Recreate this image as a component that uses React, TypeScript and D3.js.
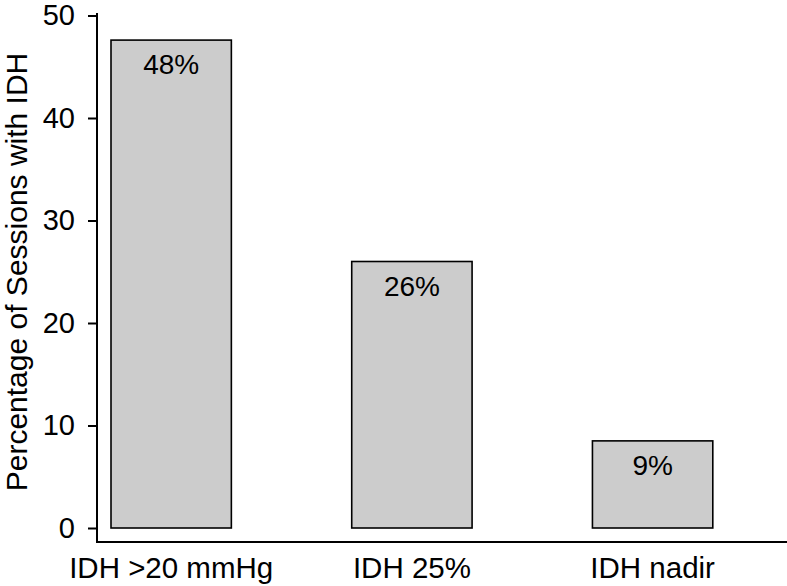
import { useEffect, useRef } from 'react'
import * as d3 from 'd3'

const categories = ['IDH >20 mmHg', 'IDH 25%', 'IDH nadir']
const values = [47.6, 26.0, 8.5]
const valueLabels = ['48%', '26%', '9%']
const yTicks = [0, 10, 20, 30, 40, 50]

export default function App() {
  const ref = useRef<SVGSVGElement>(null)
  useEffect(() => {
    const width = 787, height = 586
    const svg = d3.select(ref.current).attr('viewBox', `0 0 ${width} ${height}`)
    svg.selectAll('*').remove()
    const font = 'Liberation Sans, Arial, Helvetica, sans-serif'

    const axisX = 97, axisBottom = 542
    const x = d3.scaleBand().domain(categories).range([111, 712.8]).paddingInner(0.5).paddingOuter(0)
    const y = d3.scaleLinear().domain([0, 50]).range([528, 15.5])

    // bars
    svg.append('g').selectAll('rect').data(values).join('rect')
      .attr('x', (_, i) => x(categories[i])!)
      .attr('width', x.bandwidth())
      .attr('y', d => y(d))
      .attr('height', d => y(0) - y(d))
      .attr('fill', '#cccccc')
      .attr('stroke', '#000')
      .attr('stroke-width', 1.6)

    svg.append('g').selectAll('text').data(values).join('text')
      .attr('x', (_, i) => x(categories[i])! + x.bandwidth() / 2)
      .attr('y', d => y(d) + 34)
      .attr('text-anchor', 'middle')
      .attr('font-family', font)
      .attr('font-size', 28)
      .attr('fill', '#000')
      .text((_, i) => valueLabels[i])

    // y axis
    const yAxis = svg.append('g').attr('transform', `translate(${axisX},0)`)
      .call(d3.axisLeft(y).tickValues(yTicks).tickSize(9).tickPadding(13).tickFormat(d3.format('d')))
    yAxis.select('.domain').remove()
    yAxis.selectAll('line').attr('stroke', '#000').attr('stroke-width', 2)
    yAxis.selectAll('text').attr('font-family', font).attr('font-size', 29).attr('fill', '#000')
    svg.append('line').attr('x1', axisX).attr('x2', axisX).attr('y1', 13).attr('y2', axisBottom)
      .attr('stroke', '#000').attr('stroke-width', 2)

    // x axis
    svg.append('line').attr('x1', axisX - 1).attr('x2', width).attr('y1', axisBottom).attr('y2', axisBottom)
      .attr('stroke', '#000').attr('stroke-width', 2)
    svg.append('g').selectAll('text').data(categories).join('text')
      .attr('x', d => x(d)! + x.bandwidth() / 2)
      .attr('y', axisBottom + 36)
      .attr('text-anchor', 'middle')
      .attr('font-family', font)
      .attr('font-size', 29.5)
      .attr('fill', '#000')
      .text(d => d)

    svg.append('text')
      .attr('transform', `translate(27,272) rotate(-90)`)
      .attr('text-anchor', 'middle')
      .attr('font-family', font)
      .attr('font-size', 30)
      .attr('fill', '#000')
      .text('Percentage of Sessions with IDH')
  }, [])
  return <svg ref={ref} width={787} height={586} style={{ position: 'absolute', left: 0, top: 0 }} />
}
